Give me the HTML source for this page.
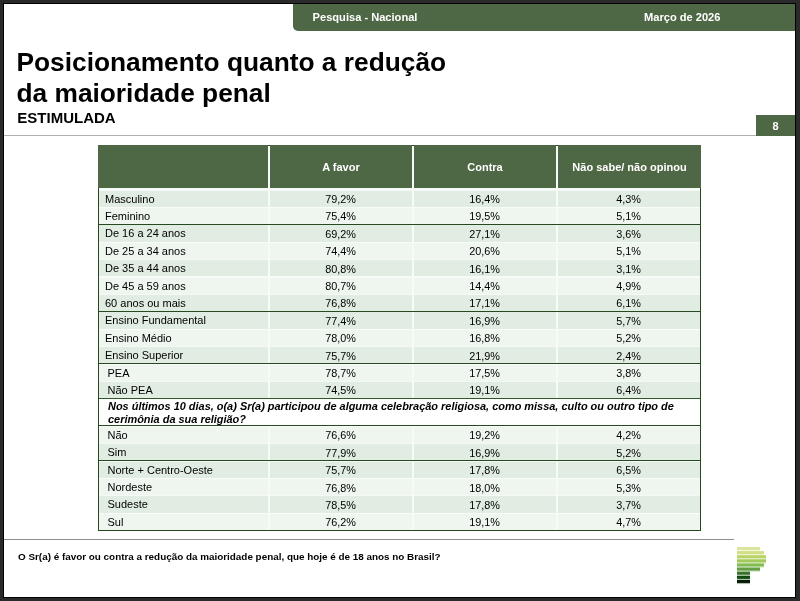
<!DOCTYPE html>
<html lang="pt-BR"><head><meta charset="utf-8"><title>Posicionamento quanto a redução da maioridade penal</title>
<style>
html,body{margin:0;padding:0}
body{width:800px;height:601px;background:#2a2a2a;position:relative;overflow:hidden;font-family:"Liberation Sans",Arial,Helvetica,sans-serif;color:#000}
#slide{position:absolute;left:4px;top:4px;width:791px;height:593px;background:#fff;overflow:hidden;box-shadow:0 0 0 1px #000}
#slide *{box-sizing:border-box}
#hdr{position:absolute;left:289px;top:0;width:502px;height:26.5px;background:#4e6744;border-bottom-left-radius:5px;color:#fff;font-weight:bold;font-size:11.1px;line-height:26.4px}
#hdr span{position:absolute;top:0;white-space:nowrap}
h1{position:absolute;left:12.5px;top:43px;margin:0;font-size:26.3px;line-height:30.6px;font-weight:bold;white-space:nowrap;letter-spacing:0}
h2{position:absolute;left:13.3px;top:105px;margin:0;font-size:15px;line-height:18px;font-weight:bold}
#pg{position:absolute;left:752px;top:111px;width:39px;height:21px;background:#4e6744;color:#fff;font-weight:bold;font-size:11px;line-height:22.5px;text-align:center}
#l1{position:absolute;left:0;top:131px;width:752px;height:1px;background:#b0b0b0}
#l2{position:absolute;left:0;top:534.9px;width:730px;height:1.2px;background:#8e8e8e}
#ft{position:absolute;left:14px;top:546px;font-size:9.9px;font-weight:bold;line-height:14px;white-space:nowrap}
#tb{position:absolute;left:94px;top:141px;width:603px;height:386px;background:#f7fbf7;border:1px solid #26481e}
#th{position:absolute;left:94px;top:141px;width:603px;height:43px;}
#th div{position:absolute;top:0;height:43px;background:#4e6744;color:#fff;font-weight:bold;font-size:11px;line-height:45px;text-align:center;white-space:nowrap}
.r{position:absolute;left:95px;width:601px;height:17.4px;font-size:10.75px;line-height:19px}
.r.a .c{background:#e1ede2}
.r.b .c{background:#eff6f0}
.c{position:absolute;top:0;bottom:0;box-shadow:inset 0 1px 0 rgba(255,255,255,.65);text-align:center;white-space:nowrap}
.c1{left:0;width:169px;text-align:left;padding-left:6px;font-size:11px}
.c2,.c3,.c4{padding-top:0.6px;padding-right:1px;font-size:10.85px}
.c2{left:171px;width:142px}
.c3{left:315px;width:142px}
.c4{left:459px;width:142px}
.c1 span{display:inline-block}
.r.s::before{content:"";position:absolute;left:0;right:0;top:-0.6px;height:1.2px;background:#27491f;z-index:2}
.q{position:absolute;left:95px;width:601px;background:#fff;font-size:10.95px;font-weight:bold;font-style:italic;line-height:13px;border-top:1px solid #2f5a28;border-bottom:1px solid #2f5a28;padding:1px 0 0 9px;white-space:nowrap}
#logo{position:absolute;left:733px;top:543px;width:34px;height:40px}
#logo svg{display:block}
</style></head><body>
<div id="slide">
<div id="hdr"><span style="left:19.6px">Pesquisa - Nacional</span><span style="left:351px">Março de 2026</span></div>
<h1>Posicionamento quanto a redução<br>da maioridade penal</h1>
<h2>ESTIMULADA</h2>
<div id="l1"></div>
<div id="pg">8</div>
<div id="tb"></div>
<div id="th"><div style="left:0;width:170px"></div><div style="left:172px;width:142px">A favor</div><div style="left:316px;width:142px">Contra</div><div style="left:460px;width:143px">Não sabe/ não opinou</div></div>
<div class="r a" style="top:185.5px"><div class="c c1"><span>Masculino</span></div><div class="c c2">79,2%</div><div class="c c3">16,4%</div><div class="c c4">4,3%</div></div>
<div class="r b" style="top:202.9px"><div class="c c1"><span>Feminino</span></div><div class="c c2">75,4%</div><div class="c c3">19,5%</div><div class="c c4">5,1%</div></div>
<div class="r a s" style="top:220.3px"><div class="c c1"><span>De 16 a 24 anos</span></div><div class="c c2">69,2%</div><div class="c c3">27,1%</div><div class="c c4">3,6%</div></div>
<div class="r b" style="top:237.7px"><div class="c c1"><span>De 25 a 34 anos</span></div><div class="c c2">74,4%</div><div class="c c3">20,6%</div><div class="c c4">5,1%</div></div>
<div class="r a" style="top:255.1px"><div class="c c1"><span>De 35 a 44 anos</span></div><div class="c c2">80,8%</div><div class="c c3">16,1%</div><div class="c c4">3,1%</div></div>
<div class="r b" style="top:272.5px"><div class="c c1"><span>De 45 a 59 anos</span></div><div class="c c2">80,7%</div><div class="c c3">14,4%</div><div class="c c4">4,9%</div></div>
<div class="r a" style="top:289.9px"><div class="c c1"><span>60 anos ou mais</span></div><div class="c c2">76,8%</div><div class="c c3">17,1%</div><div class="c c4">6,1%</div></div>
<div class="r a s" style="top:307.3px"><div class="c c1"><span>Ensino Fundamental</span></div><div class="c c2">77,4%</div><div class="c c3">16,9%</div><div class="c c4">5,7%</div></div>
<div class="r b" style="top:324.7px"><div class="c c1"><span>Ensino Médio</span></div><div class="c c2">78,0%</div><div class="c c3">16,8%</div><div class="c c4">5,2%</div></div>
<div class="r a" style="top:342.1px"><div class="c c1"><span>Ensino Superior</span></div><div class="c c2">75,7%</div><div class="c c3">21,9%</div><div class="c c4">2,4%</div></div>
<div class="r b s" style="top:359.5px"><div class="c c1"><span style="padding-left:2.5px">PEA</span></div><div class="c c2">78,7%</div><div class="c c3">17,5%</div><div class="c c4">3,8%</div></div>
<div class="r a" style="top:376.9px"><div class="c c1"><span style="padding-left:2.5px">Não PEA</span></div><div class="c c2">74,5%</div><div class="c c3">19,1%</div><div class="c c4">6,4%</div></div>
<div class="q" style="top:394.3px;height:27.5px"><span>Nos últimos 10 dias, o(a) Sr(a) participou de alguma celebração religiosa, como missa, culto ou outro tipo de<br>cerimônia da sua religião?</span></div>
<div class="r b s" style="top:421.8px"><div class="c c1"><span style="padding-left:2.5px">Não</span></div><div class="c c2">76,6%</div><div class="c c3">19,2%</div><div class="c c4">4,2%</div></div>
<div class="r a" style="top:439.2px"><div class="c c1"><span style="padding-left:2.5px">Sim</span></div><div class="c c2">77,9%</div><div class="c c3">16,9%</div><div class="c c4">5,2%</div></div>
<div class="r a s" style="top:456.6px"><div class="c c1"><span style="padding-left:2.5px">Norte + Centro-Oeste</span></div><div class="c c2">75,7%</div><div class="c c3">17,8%</div><div class="c c4">6,5%</div></div>
<div class="r b" style="top:474.0px"><div class="c c1"><span style="padding-left:2.5px">Nordeste</span></div><div class="c c2">76,8%</div><div class="c c3">18,0%</div><div class="c c4">5,3%</div></div>
<div class="r a" style="top:491.4px"><div class="c c1"><span style="padding-left:2.5px">Sudeste</span></div><div class="c c2">78,5%</div><div class="c c3">17,8%</div><div class="c c4">3,7%</div></div>
<div class="r b" style="top:508.8px"><div class="c c1"><span style="padding-left:2.5px">Sul</span></div><div class="c c2">76,2%</div><div class="c c3">19,1%</div><div class="c c4">4,7%</div></div>
<div id="l2"></div>
<div id="ft">O Sr(a) é favor ou contra a redução da maioridade penal, que hoje é de 18 anos no Brasil?</div>
<div id="logo"><svg width="34" height="40" viewBox="0 0 34 40"><rect x="0" y="0.00" width="23" height="4.12" fill="#dde59b" opacity="0.3"/><rect x="0" y="0.00" width="23" height="3" fill="#dde59b"/><rect x="0" y="4.12" width="27" height="4.12" fill="#d2df86" opacity="0.3"/><rect x="0" y="4.12" width="27" height="3" fill="#d2df86"/><rect x="0" y="8.24" width="29" height="4.12" fill="#b9d366" opacity="0.3"/><rect x="0" y="8.24" width="29" height="3" fill="#b9d366"/><rect x="0" y="12.36" width="29" height="4.12" fill="#a3cb5c" opacity="0.3"/><rect x="0" y="12.36" width="29" height="3" fill="#a3cb5c"/><rect x="0" y="16.48" width="27" height="4.12" fill="#82bd52" opacity="0.3"/><rect x="0" y="16.48" width="27" height="3" fill="#82bd52"/><rect x="0" y="20.60" width="23" height="4.12" fill="#659f45" opacity="0.3"/><rect x="0" y="20.60" width="23" height="3" fill="#659f45"/><rect x="0" y="24.72" width="13" height="4.12" fill="#3a7229" opacity="0.3"/><rect x="0" y="24.72" width="13" height="3" fill="#3a7229"/><rect x="0" y="28.84" width="13" height="4.12" fill="#0f4a0f" opacity="0.3"/><rect x="0" y="28.84" width="13" height="3" fill="#0f4a0f"/><rect x="0" y="32.96" width="13" height="4.12" fill="#071c07" opacity="0.3"/><rect x="0" y="32.96" width="13" height="3" fill="#071c07"/></svg></div>
</div>
</body></html>
